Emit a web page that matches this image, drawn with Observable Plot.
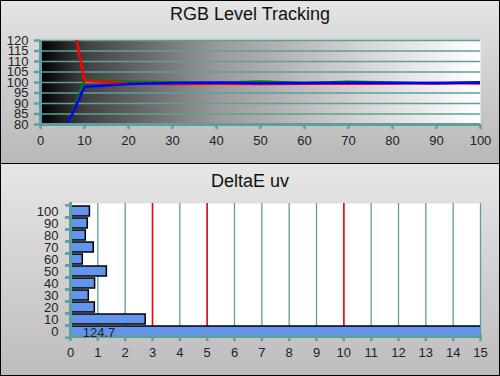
<!DOCTYPE html>
<html><head><meta charset="utf-8">
<script src="https://cdn.jsdelivr.net/npm/d3@7"></script>
<script src="https://cdn.jsdelivr.net/npm/@observablehq/plot@0.6"></script>
<style>
body{margin:0;background:#fff;}
#wrap{width:498px;height:374px;border:1px solid #000;font-family:"Liberation Sans",Arial,sans-serif;}
.panel{position:relative;width:498px;overflow:hidden}
#p1{height:162px;background:linear-gradient(#e4e4e4,#b8b8b8);border-bottom:1px solid #000}
#p2{height:211px;background:linear-gradient(#e6e6e6,#bdbdbd)}
.title{position:absolute;left:0;width:100%;text-align:center;font-size:18px;line-height:20px;color:#111;z-index:2}
.panel svg{position:absolute;left:0;top:0}
</style></head>
<body>
<div id="wrap">
  <div class="panel" id="p1"><div class="title" style="top:3px">RGB Level Tracking</div></div>
  <div class="panel" id="p2"><div class="title" style="top:7px">DeltaE uv</div></div>
</div>
<script>
// ---- Data: RGB level tracking ----
const levels = [5, 10, 20, 30, 40, 50, 60, 70, 80, 90, 100];
const red    = [155, 101, 99.5, 99.3, 99.4, 99.3, 99.4, 99.4, 99.5, 99.8, 99.5];
const green  = [72, 101.2, 100.4, 100.1, 99.8, 100.5, 99.8, 100.3, 100, 99.5, 100.1];
const blue   = [74.5, 98, 99.3, 99.8, 100, 99.7, 99.8, 99.9, 99.8, 99.8, 100];
const yTicks1 = [80, 85, 90, 95, 100, 105, 110, 115, 120];
const xTicks1 = [0, 10, 20, 30, 40, 50, 60, 70, 80, 90, 100];

// ---- Data: DeltaE uv ----
const grays  = ["0", "10", "20", "30", "40", "50", "60", "70", "80", "90", "100"];
const deltaE = [124.7, 2.75, 0.89, 0.67, 0.9, 1.33, 0.45, 0.85, 0.56, 0.63, 0.71];
const xTicks2 = d3.range(0, 16);
const limits = [3, 5, 10];

const teal = "#5f9ea0";
const font = {fontFamily: "'Liberation Sans', Arial, sans-serif", fontSize: "13px", background: "transparent", overflow: "visible"};

const gRows = levels.map((l, i) => ({level: l, value: green[i]}));
const bRows = levels.map((l, i) => ({level: l, value: blue[i]}));
const rRows = levels.map((l, i) => ({level: l, value: red[i]}));

const topChart = Plot.plot({
  width: 498, height: 162,
  marginLeft: 39, marginRight: 19, marginTop: 39, marginBottom: 39,
  style: font,
  x: {domain: [0, 100], axis: null},
  y: {domain: [80, 120], axis: null},
  marks: [
    Plot.frame({fill: "url(#bwgrad)", stroke: "none"}),
    Plot.ruleY(yTicks1, {stroke: teal, strokeWidth: 1.5}),
    Plot.line(gRows, {x: "level", y: "value", stroke: "#008000", strokeWidth: 2.5, clip: true}),
    Plot.line(rRows, {x: "level", y: "value", stroke: "#ff0000", strokeWidth: 2.5, clip: true}),
    Plot.line(bRows, {x: "level", y: "value", stroke: "#0000ff", strokeWidth: 2.5, clip: true}),
    Plot.ruleX([0], {stroke: teal, strokeWidth: 3}),
    Plot.ruleY([80], {stroke: teal, strokeWidth: 3}),
    Plot.axisY({ticks: yTicks1, tickSize: 6, tickPadding: 6, stroke: teal, strokeWidth: 2.5, fill: "#222", tickFormat: d => d, label: null}),
    Plot.axisX({ticks: xTicks1, tickSize: 5, tickPadding: 6, stroke: teal, strokeWidth: 2.5, fill: "#222", tickFormat: d => d, label: null})
  ]
});
d3.select(topChart).insert("defs", ":first-child").html(
  `<linearGradient id="bwgrad" x1="0" x2="1" y1="0" y2="0">
     <stop offset="0" stop-color="#000"/>
     <stop offset="0.1" stop-color="#404040"/>
     <stop offset="0.4" stop-color="#999"/>
     <stop offset="0.7" stop-color="#cfcfcf"/>
     <stop offset="1" stop-color="#fff"/>
   </linearGradient>`);
document.getElementById("p1").appendChild(topChart);

const deRows = grays.map((g, i) => ({gray: g, de: deltaE[i]}));
const bottomChart = Plot.plot({
  width: 498, height: 211,
  marginLeft: 69, marginRight: 19, marginTop: 39, marginBottom: 39,
  style: font,
  x: {domain: [0, 15], axis: null},
  y: {domain: grays.slice().reverse(), paddingInner: 0.17, paddingOuter: 0, align: 1, axis: null},
  marks: [
    Plot.frame({fill: "#fff", stroke: "none"}),
    Plot.ruleX(xTicks2.slice(1), {stroke: teal, strokeWidth: 1.3}),
    Plot.ruleX(limits, {stroke: "#ff0000", strokeWidth: 1.5}),
    Plot.barX(deRows, {x: "de", y: "gray", fill: "#6495ed", stroke: "#000", strokeWidth: 1.5, clip: true}),
    Plot.frame({anchor: "left", stroke: teal, strokeWidth: 3}),
    Plot.frame({anchor: "bottom", stroke: teal, strokeWidth: 3}),
    Plot.axisY({tickSize: 0, tickPadding: 12, fill: "#222", stroke: "none", label: null}),
    Plot.axisY({tickSize: 5, text: null, dy: -6.14, stroke: teal, strokeWidth: 2.5, label: null}),
    Plot.axisY({tickSize: 5, text: null, dy: 6.14, stroke: teal, strokeWidth: 2.5, label: null}),
    Plot.axisX({ticks: xTicks2, tickSize: 5, tickPadding: 6, stroke: teal, strokeWidth: 2.5, fill: "#222", tickFormat: d => d, label: null}),
    Plot.text(deRows.filter(d => d.de > 15), {x: 0.45, y: "gray", text: d => d.de.toFixed(1), textAnchor: "start", dy: 1.5, fill: "#222", fontSize: 13})
  ]
});
document.getElementById("p2").appendChild(bottomChart);
</script>
</body></html>
